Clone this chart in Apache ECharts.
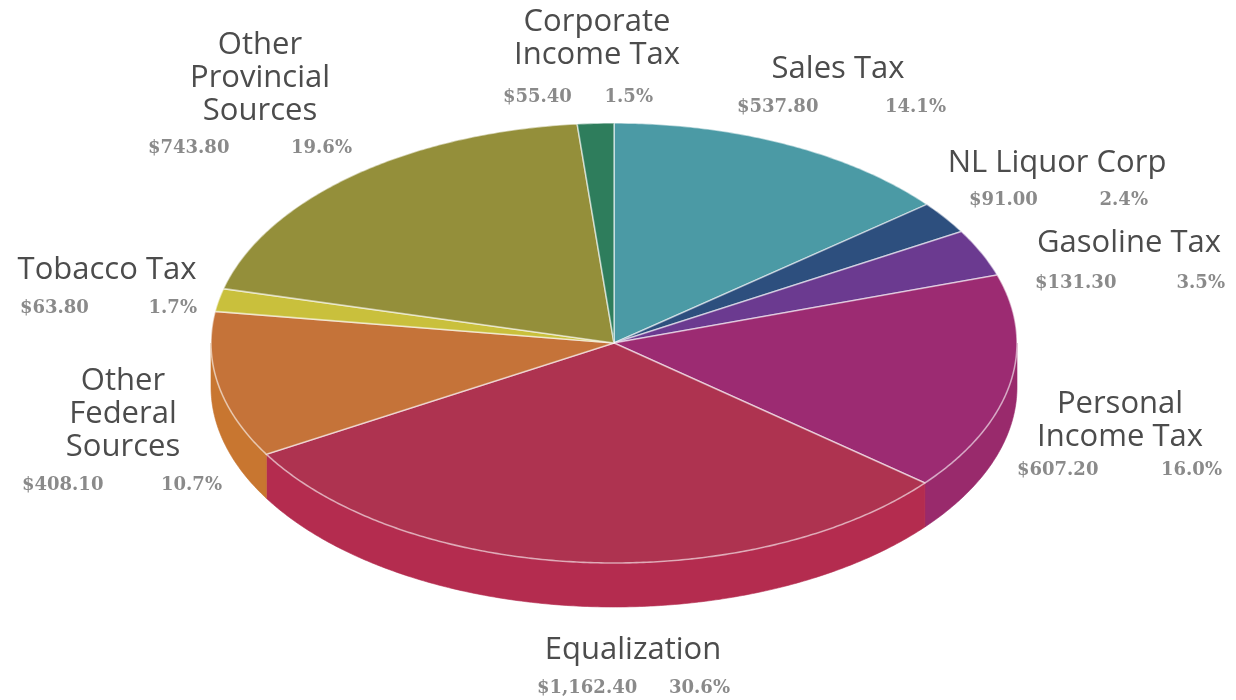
<!DOCTYPE html>
<html>
<head>
<meta charset="utf-8">
<script src="https://cdn.jsdelivr.net/npm/echarts@6/dist/echarts.min.js"></script>
<style>
  html, body { margin: 0; padding: 0; background: #ffffff; }
  #chart { width: 1236px; height: 700px; }
</style>
</head>
<body>
<div id="chart"></div>
<script>
// Revenue sources, clockwise from 12 o'clock
const categories = [
  'Sales Tax',
  'NL Liquor Corp',
  'Gasoline Tax',
  'Personal\nIncome Tax',
  'Equalization',
  'Other\nFederal\nSources',
  'Tobacco Tax',
  'Other\nProvincial\nSources',
  'Corporate\nIncome Tax'
];
const revenues = [537.80, 91.00, 131.30, 607.20, 1162.40, 408.10, 63.80, 743.80, 55.40];

// Slice palette: top faces and the darker rim below them
const topColors  = ['#4b9aa5', '#2d4f7e', '#6b3a90', '#9c2b72', '#ae3350', '#c57339', '#c9c03c', '#948f3a', '#2e7d5c'];
const sideColors = ['#438b95', '#284771', '#603482', '#992a6c', '#b42c4f', '#c87630', '#b5ad36', '#857f33', '#296f52'];

// Tilted pie geometry (pixels)
const PIE = { cx: 614, cy: 343, rx: 403, ry: 220, depth: 44 };

// Label placement: name block centre x / bottom y, value row y, value left x, percent right x
const labelLayout = [
  { x: 838,  bottom: 86,  row: 107, valL: 737,  pctR: 946 },
  { x: 1057, bottom: 180, row: 200, valL: 969,  pctR: 1148 },
  { x: 1129, bottom: 260, row: 283, valL: 1035, pctR: 1225 },
  { x: 1120, bottom: 454, row: 470, valL: 1017, pctR: 1222 },
  { x: 633,  bottom: 667, row: 688, valL: 537,  pctR: 730 },
  { x: 123,  bottom: 464, row: 485, valL: 22,   pctR: 222 },
  { x: 107,  bottom: 287, row: 308, valL: 20,   pctR: 197 },
  { x: 260,  bottom: 128, row: 148, valL: 148,  pctR: 352 },
  { x: 597,  bottom: 72,  row: 97,  valL: 503,  pctR: 653 }
];

const total = revenues.reduce((a, b) => a + b, 0);
const startAngles = [];
const endAngles = [];
(function () {
  let acc = 0;
  revenues.forEach(function (v) {
    startAngles.push(acc / total * Math.PI * 2);
    acc += v;
    endAngles.push(acc / total * Math.PI * 2);
  });
})();

// Points along the ellipse rim, angle measured clockwise from the top
function arcPoints(a0, a1, dy) {
  const pts = [];
  const n = Math.max(2, Math.ceil((a1 - a0) / (Math.PI / 360)));
  for (let k = 0; k <= n; k++) {
    const a = a0 + (a1 - a0) * k / n;
    pts.push([PIE.cx + PIE.rx * Math.sin(a), PIE.cy - PIE.ry * Math.cos(a) + dy]);
  }
  return pts;
}

function renderSide(params) {
  const i = params.dataIndex;
  const s = Math.max(startAngles[i], Math.PI / 2);
  const e = Math.min(endAngles[i], Math.PI * 1.5);
  if (e <= s) return null;
  const pts = arcPoints(s, e, 0).concat(arcPoints(s, e, PIE.depth).reverse());
  return {
    type: 'polygon',
    shape: { points: pts },
    style: { fill: sideColors[i], stroke: sideColors[i], lineWidth: 0.6 }
  };
}

function renderTop(params) {
  const i = params.dataIndex;
  const pts = [[PIE.cx, PIE.cy]].concat(arcPoints(startAngles[i], endAngles[i], 0));
  return {
    type: 'polygon',
    shape: { points: pts },
    style: {
      fill: topColors[i],
      stroke: 'rgba(255,255,255,0.55)',
      lineWidth: 1.6,
      lineJoin: 'round'
    }
  };
}

function money(v) {
  return '$' + v.toLocaleString('en-US', { minimumFractionDigits: 2, maximumFractionDigits: 2 });
}

const nameFont = '31px "Open Sans", "Noto Sans", sans-serif';
const valueFont = 'bold 18px "DejaVu Serif", serif';

const labels = [];
categories.forEach(function (name, i) {
  const L = labelLayout[i];
  labels.push({
    type: 'text', x: L.x, y: L.bottom, z: 10,
    style: { text: name, font: nameFont, fill: '#4c4c4c', align: 'center', verticalAlign: 'bottom', lineHeight: 33 }
  });
  labels.push({
    type: 'text', x: L.valL, y: L.row, z: 10,
    style: { text: money(revenues[i]), font: valueFont, fill: '#8a8a8a', align: 'left', verticalAlign: 'middle' }
  });
  labels.push({
    type: 'text', x: L.pctR, y: L.row, z: 10,
    style: { text: (revenues[i] / total * 100).toFixed(1) + '%', font: valueFont, fill: '#8a8a8a', align: 'right', verticalAlign: 'middle' }
  });
});

const chart = echarts.init(document.getElementById('chart'), null, { renderer: 'canvas' });
chart.setOption({
  backgroundColor: '#ffffff',
  animation: false,
  tooltip: { show: false },
  series: [
    { type: 'custom', name: 'rim', coordinateSystem: 'none', z: 1, silent: true, data: revenues, renderItem: renderSide },
    { type: 'custom', name: 'top', coordinateSystem: 'none', z: 2, silent: true, data: revenues, renderItem: renderTop }
  ],
  graphic: labels
});
</script>
</body>
</html>
